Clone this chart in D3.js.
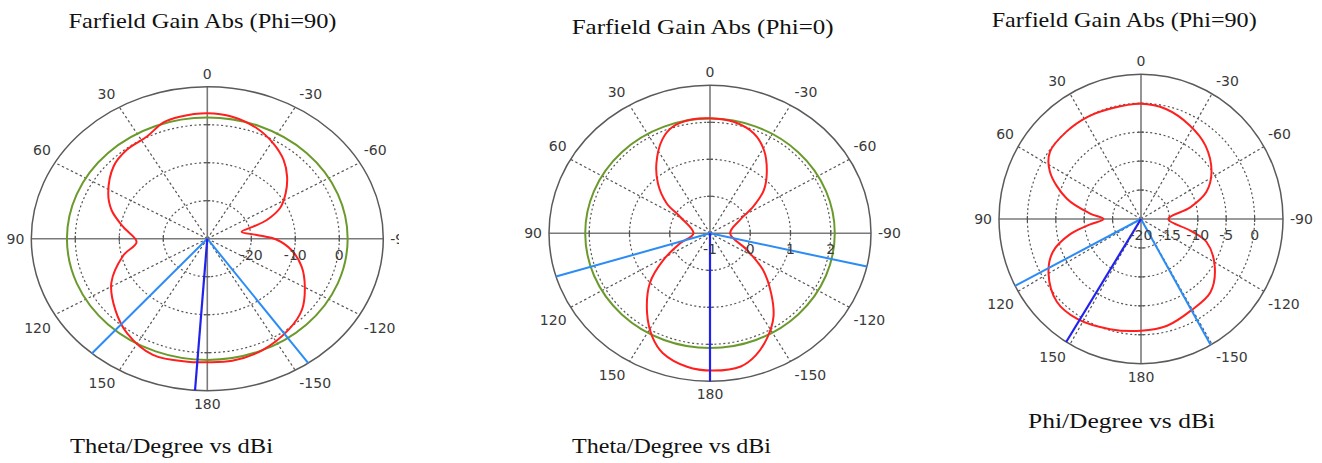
<!DOCTYPE html>
<html>
<head>
<meta charset="utf-8">
<script src="https://cdn.jsdelivr.net/npm/d3@7"></script>
<style>
  body { margin: 0; background: #fff; }
  svg { display: block; }
  .ttl { font-family: "Liberation Serif", "Times New Roman", serif; font-size: 21px; fill: #111; }
  .lbl { font-family: "DejaVu Sans", Tahoma, sans-serif; font-size: 14px; fill: #3a3a3a; }
</style>
</head>
<body>
<svg width="1322" height="463"></svg>
<script>
// angle labels on the rim (deg, counter-clockwise from top)
var angleTicks = [0, 30, 60, 90, 120, 150, 180, -150, -120, -90, -60, -30];

// panel 1 : Theta cut, Phi=90
var theta1 = [-170, -157, -142, -131, -120, -109, -99, -91, -85, -77, -73, -70, -64, -56, -48, -40, -31, -21, -10, 0,
              11, 18, 27, 38, 48, 62, 71, 81, 93, 103, 118, 132, 144, 158, 172, 180];
var gain1 = [2.6, 1.9, 0.2, -1.5, -4.4, -7.3, -10.6, -14.2, -18.7, -22, -19.1, -15.6, -11.6, -8.5, -5.6, -3.0, -0.8, 1.2, 2.6, 3.0,
             2.7, 2.2, 0.2, -0.3, -1.4, -4.5, -7.0, -10.7, -13.9, -10.4, -5.3, -1.9, 0.9, 3.0, 2.7, 2.5];
var rings1 = [-20, -10, 0];
var ringLabels1 = [-20, -10, 0];
var ref1 = 1.9;
var beams1 = [139, -145];
var main1 = 176;

// panel 2 : Theta cut, Phi=0
var theta2 = [-179, -168, -161, -153, -145, -137, -127, -116, -90, -64, -56, -49, -41, -31, -22, -11, 0,
              8, 18, 25, 35, 44, 53, 59, 90, 110, 122, 132, 144, 153, 160, 171];
var gain2 = [2.71, 2.68, 2.49, 2.15, 1.75, 1.23, 0.65, 0.02, -0.5, -0.17, 0.3, 0.77, 1.15, 1.61, 1.91, 2.07, 2.11,
             2.11, 2.02, 1.8, 1.32, 0.86, 0.35, -0.13, -0.59, -0.21, 0.37, 1.01, 1.66, 2.15, 2.44, 2.65];
var rings2 = [0, 1, 2];
var ringLabels2 = [-1, 0, 1, 2];
var ref2 = 2.1;
var beams2 = [107, -103];
var main2 = 180;

// panel 3 : Phi cut
var theta3 = [-166, -151, -136, -122, -109, -103, -90, -77, -68, -57, -42, -28, -13, 0,
              15, 28, 41, 54, 63, 75, 84, 90, 96, 102, 110, 120, 134, 147, 164, 180];
var gain3 = [-1.0, -1.9, -2.4, -4.7, -7.8, -11.1, -15.2, -11.1, -7.6, -5.2, -3.0, -1.7, -0.5, -0.1,
             -0.2, 0, 0, -0.2, -2.0, -6.5, -11, -13.4, -11, -7.2, -3.5, -1.2, 0.6, 0.6, -0.2, -0.7];
var rings3 = [-15, -10, -5, 0];
var ringLabels3 = [-20, -15, -10, -5, 0];
var beams3 = [117.5, -150.6];
var main3 = 148.2;

var titles = ["Farfield Gain Abs (Phi=90)", "Farfield Gain Abs (Phi=0)", "Farfield Gain Abs (Phi=90)"];
var xTitles = ["Theta/Degree vs dBi", "Theta/Degree vs dBi", "Phi/Degree vs dBi"];

var svg = d3.select("svg");
var rad = Math.PI / 180;

var panels = [
  {cx: 207.3, cy: 238.7, rx: 176, ry: 152, lo: -30, hi: 10, theta: theta1, gain: gain1, rings: rings1, ringLabels: ringLabels1,
   ref: ref1, beams: beams1, main: main1, clipRight: 399,
   title: [68.5, 27.7, 268], xtitle: [70, 453, 203]},
  {cx: 710, cy: 233.3, rx: 161, ry: 148, lo: -1, hi: 3, theta: theta2, gain: gain2, rings: rings2, ringLabels: ringLabels2,
   ref: ref2, beams: beams2, main: main2, clipRight: 930,
   title: [571.7, 34.3, 262], xtitle: [572, 453, 199]},
  {cx: 1141, cy: 219, rx: 142, ry: 144.7, lo: -20, hi: 5, theta: theta3, gain: gain3, rings: rings3, ringLabels: ringLabels3,
   ref: null, beams: beams3, main: main3, clipRight: 1322,
   title: [991.7, 26.7, 265], xtitle: [1028, 428, 187]}
];

panels.forEach(function(p, i) {
  var r = d3.scaleLinear().domain([p.lo, p.hi]).range([0, 1]);
  function px(t, v) { return p.cx - p.rx * r(v) * Math.sin(t * rad); }
  function py(t, v) { return p.cy - p.ry * r(v) * Math.cos(t * rad); }

  svg.append("clipPath").attr("id", "clip" + i)
    .append("rect").attr("x", p.clipRight - 420).attr("y", 0).attr("width", 420).attr("height", 463);

  var g = svg.append("g").attr("clip-path", "url(#clip" + i + ")");

  // dotted rings
  g.selectAll(".ring").data(p.rings).enter().append("ellipse")
    .attr("cx", p.cx).attr("cy", p.cy)
    .attr("rx", function(d) { return p.rx * r(d); })
    .attr("ry", function(d) { return p.ry * r(d); })
    .attr("fill", "none").attr("stroke", "#555").attr("stroke-width", 1.2)
    .attr("stroke-dasharray", "2,2.5");

  // dotted spokes
  g.selectAll(".spoke").data(angleTicks.filter(function(a) { return a % 90 !== 0; })).enter().append("line")
    .attr("x1", p.cx).attr("y1", p.cy)
    .attr("x2", function(d) { return px(d, p.hi); })
    .attr("y2", function(d) { return py(d, p.hi); })
    .attr("stroke", "#555").attr("stroke-width", 1.2).attr("stroke-dasharray", "2.5,2.5");

  // axes
  g.append("line").attr("x1", p.cx - p.rx).attr("x2", p.cx + p.rx).attr("y1", p.cy).attr("y2", p.cy)
    .attr("stroke", "#7a7a7a").attr("stroke-width", 1.6);
  g.append("line").attr("x1", p.cx).attr("x2", p.cx).attr("y1", p.cy - p.ry).attr("y2", p.cy + p.ry)
    .attr("stroke", "#7a7a7a").attr("stroke-width", 1.6);

  // axis ticks
  p.rings.forEach(function(d) {
    var dx = p.rx * r(d), dy = p.ry * r(d);
    [-1, 1].forEach(function(s) {
      g.append("line").attr("x1", p.cx + s * dx).attr("x2", p.cx + s * dx).attr("y1", p.cy - 3).attr("y2", p.cy + 3)
        .attr("stroke", "#555").attr("stroke-width", 1.2);
      g.append("line").attr("y1", p.cy + s * dy).attr("y2", p.cy + s * dy).attr("x1", p.cx - 3).attr("x2", p.cx + 3)
        .attr("stroke", "#555").attr("stroke-width", 1.2);
    });
  });

  // outer rim
  g.append("ellipse").attr("cx", p.cx).attr("cy", p.cy).attr("rx", p.rx).attr("ry", p.ry)
    .attr("fill", "none").attr("stroke", "#5a5a5a").attr("stroke-width", 1.5);

  // reference level (green)
  if (p.ref !== null) {
    g.append("ellipse").attr("cx", p.cx).attr("cy", p.cy)
      .attr("rx", p.rx * r(p.ref)).attr("ry", p.ry * r(p.ref))
      .attr("fill", "none").attr("stroke", "#6b9a2c").attr("stroke-width", 2);
  }

  // gain curve
  var pts = p.theta.map(function(t, k) { return [t, p.gain[k]]; });
  var line = d3.line()
    .x(function(d) { return px(d[0], d[1]); })
    .y(function(d) { return py(d[0], d[1]); })
    .curve(d3.curveCatmullRomClosed.alpha(0.5));
  g.append("path").attr("d", line(pts))
    .attr("fill", "none").attr("stroke", "#ff1f1f").attr("stroke-width", 2);

  // beam lines
  g.selectAll(".beam").data(p.beams).enter().append("line")
    .attr("x1", p.cx).attr("y1", p.cy)
    .attr("x2", function(d) { return px(d, p.hi); })
    .attr("y2", function(d) { return py(d, p.hi); })
    .attr("stroke", "#2b8cf5").attr("stroke-width", 2);
  g.append("line")
    .attr("x1", p.cx).attr("y1", p.cy)
    .attr("x2", px(p.main, p.hi)).attr("y2", py(p.main, p.hi))
    .attr("stroke", "#2222ee").attr("stroke-width", 2.2);

  // rim labels
  g.selectAll(".alab").data(angleTicks).enter().append("text")
    .attr("class", "lbl")
    .attr("x", function(d) {
      var s = Math.round(Math.sin(d * rad) * 1000) / 1000;
      var off = Math.abs(s) === 1 ? 7 : 4;
      return px(d, p.hi) - Math.sign(s) * off;
    })
    .attr("y", function(d) {
      var c = Math.round(Math.cos(d * rad) * 1000) / 1000;
      return py(d, p.hi) - Math.sign(c) * 13;
    })
    .attr("dy", "0.36em")
    .attr("text-anchor", function(d) {
      var s = Math.round(Math.sin(d * rad) * 1000) / 1000;
      return s > 0 ? "end" : (s < 0 ? "start" : "middle");
    })
    .text(function(d) { return d; });

  // radial labels
  g.selectAll(".rlab").data(p.ringLabels).enter().append("text")
    .attr("class", "lbl")
    .attr("x", function(d) { return p.cx + p.rx * r(d); })
    .attr("y", p.cy + 16)
    .attr("dy", "0.36em")
    .attr("text-anchor", "middle")
    .text(function(d) { return d; });

  // titles
  svg.append("text").attr("class", "ttl")
    .attr("x", p.title[0]).attr("y", p.title[1])
    .attr("textLength", p.title[2]).attr("lengthAdjust", "spacingAndGlyphs")
    .text(titles[i]);
  svg.append("text").attr("class", "ttl")
    .attr("x", p.xtitle[0]).attr("y", p.xtitle[1])
    .attr("textLength", p.xtitle[2]).attr("lengthAdjust", "spacingAndGlyphs")
    .text(xTitles[i]);
});
</script>
</body>
</html>
